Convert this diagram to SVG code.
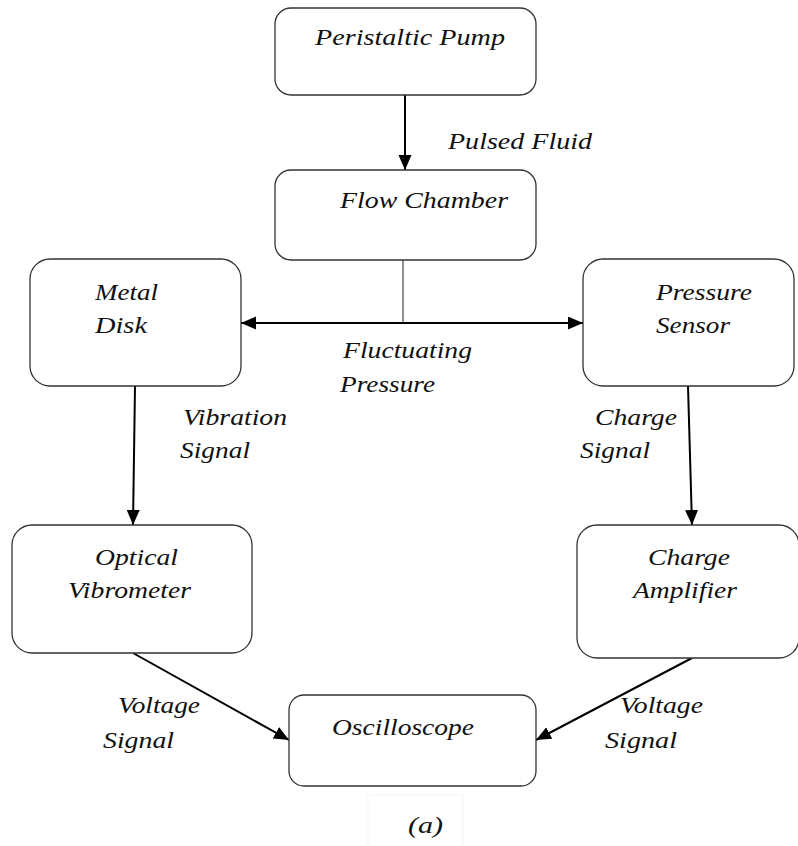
<svg xmlns="http://www.w3.org/2000/svg" width="798" height="846" viewBox="0 0 798 846">
<style>
.box{fill:#fff;stroke:#333;stroke-width:1.3}
.t{font-family:"Liberation Serif","Times New Roman",serif;font-style:italic;font-size:23px;fill:#111}
.c{fill:none;stroke:#000;stroke-width:2}
.thin{fill:none;stroke:#222;stroke-width:1}
</style>
<defs>
<marker id="ah" markerUnits="userSpaceOnUse" markerWidth="16" markerHeight="14" refX="15" refY="6.5" orient="auto-start-reverse">
<path d="M0,0 L15,6.5 L0,13 z" fill="#000"/>
</marker>
</defs>
<rect width="798" height="846" fill="#fff"/>
<rect x="368" y="795" width="95" height="55" fill="none" stroke="#f3f3f3" stroke-width="1"/>
<g id="connectors">
<path class="c" d="M405,95 L405,170" marker-end="url(#ah)"/>
<path class="thin" d="M403,260 L403,323"/>
<path class="c" d="M241,323 L583,323" marker-start="url(#ah)" marker-end="url(#ah)"/>
<path class="c" d="M135,386 L133,525" marker-end="url(#ah)"/>
<path class="c" d="M688,386 L692,525" marker-end="url(#ah)"/>
<path class="c" d="M133,653 L289,740" marker-end="url(#ah)"/>
<path class="c" d="M692,658 L536,740" marker-end="url(#ah)"/>
<text class="t" x="448" y="149" textLength="144" lengthAdjust="spacingAndGlyphs">Pulsed Fluid</text>
<text class="t" x="343" y="358" textLength="129" lengthAdjust="spacingAndGlyphs">Fluctuating</text>
<text class="t" x="340" y="392" textLength="95" lengthAdjust="spacingAndGlyphs">Pressure</text>
<text class="t" x="183" y="425" textLength="104" lengthAdjust="spacingAndGlyphs">Vibration</text>
<text class="t" x="180" y="458" textLength="70" lengthAdjust="spacingAndGlyphs">Signal</text>
<text class="t" x="595" y="425" textLength="82" lengthAdjust="spacingAndGlyphs">Charge</text>
<text class="t" x="580" y="458" textLength="70" lengthAdjust="spacingAndGlyphs">Signal</text>
<text class="t" x="118" y="713" textLength="82" lengthAdjust="spacingAndGlyphs">Voltage</text>
<text class="t" x="103" y="748" textLength="71" lengthAdjust="spacingAndGlyphs">Signal</text>
<text class="t" x="620" y="713" textLength="83" lengthAdjust="spacingAndGlyphs">Voltage</text>
<text class="t" x="605" y="748" textLength="72" lengthAdjust="spacingAndGlyphs">Signal</text>
</g>
<g id="pump">
<rect class="box" x="275" y="8" width="261" height="87" rx="16"/>
<text class="t" x="315" y="45" textLength="190" lengthAdjust="spacingAndGlyphs">Peristaltic Pump</text>
</g>
<g id="chamber">
<rect class="box" x="275" y="170" width="261" height="90" rx="16"/>
<text class="t" x="340" y="208" textLength="168" lengthAdjust="spacingAndGlyphs">Flow Chamber</text>
</g>
<g id="disk">
<rect class="box" x="30" y="259" width="211" height="127" rx="20"/>
<text class="t" x="95" y="300" textLength="63" lengthAdjust="spacingAndGlyphs">Metal</text>
<text class="t" x="95" y="333" textLength="52" lengthAdjust="spacingAndGlyphs">Disk</text>
</g>
<g id="sensor">
<rect class="box" x="583" y="259" width="211" height="127" rx="20"/>
<text class="t" x="656" y="300" textLength="96" lengthAdjust="spacingAndGlyphs">Pressure</text>
<text class="t" x="656" y="333" textLength="74" lengthAdjust="spacingAndGlyphs">Sensor</text>
</g>
<g id="vibrometer">
<rect class="box" x="12" y="525" width="240" height="128" rx="20"/>
<text class="t" x="95" y="565" textLength="83" lengthAdjust="spacingAndGlyphs">Optical</text>
<text class="t" x="68" y="598" textLength="123" lengthAdjust="spacingAndGlyphs">Vibrometer</text>
</g>
<g id="amplifier">
<rect class="box" x="577" y="525" width="222" height="133" rx="20"/>
<text class="t" x="648" y="565" textLength="82" lengthAdjust="spacingAndGlyphs">Charge</text>
<text class="t" x="633" y="598" textLength="104" lengthAdjust="spacingAndGlyphs">Amplifier</text>
</g>
<g id="oscilloscope">
<rect class="box" x="289" y="695" width="247" height="91" rx="15"/>
<text class="t" x="332" y="735" textLength="142" lengthAdjust="spacingAndGlyphs">Oscilloscope</text>
</g>
<text class="t" x="408" y="833" textLength="35" lengthAdjust="spacingAndGlyphs">(a)</text>
</svg>
